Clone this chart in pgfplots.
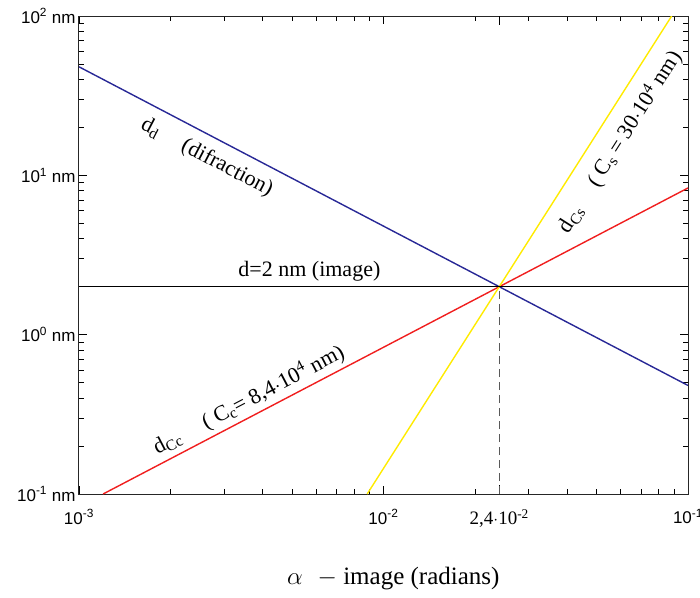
\documentclass[border=0pt]{standalone}
\usepackage{pgfplots}
\pgfplotsset{compat=1.18}
\usepackage{fontspec}
\setmainfont{Liberation Serif}
\newfontfamily\arial{Liberation Sans}
\definecolor{cblue}{RGB}{40,40,150}
\definecolor{cred}{RGB}{240,30,30}
\definecolor{cyellow}{RGB}{255,235,0}
\newcommand\twofour{2,4$\cdot$10\textsuperscript{-2}}
\begin{document}
\begin{tikzpicture}
\useasboundingbox (-79pt,-103pt) rectangle (621pt,494pt);
\begin{axis}[
  at={(0pt,0pt)}, anchor=south west,
  scale only axis, width=609pt, height=478pt,
  xmode=log, ymode=log,
  xmin=0.001, xmax=0.1, ymin=0.1, ymax=100,
  xtick={0.001,0.01,0.1},
  xticklabels={10\textsuperscript{-3},10\textsuperscript{-2},10\textsuperscript{-1}},
  ytick={0.1,1,10,100},
  yticklabels={10\textsuperscript{-1} nm,10\textsuperscript{0} nm,10\textsuperscript{1} nm,10\textsuperscript{2} nm},
  extra x ticks={0.024},
  extra x tick labels={\twofour},
  extra x tick style={tick label style={font=\rmfamily\fontsize{19}{19}\selectfont}, major tick length=9pt},
  tick label style={font=\arial\fontsize{17}{17}\selectfont},
  xticklabel style={yshift=-12pt},
  major tick length=8pt, minor tick length=5pt,
  tick style={black, line width=0.6pt},
  axis line style={line width=1pt, black!85},
  tick align=inside,
  clip mode=individual,
  xlabel={$\alpha$\hspace{0.6em}$-$ image (radians)},
  xlabel style={font=\fontsize{25}{25}\selectfont, at={(rel axis cs:0.516,-0.176)}, anchor=center},
]
\addplot[cblue, line width=1.4pt] coordinates {(0.001,48) (0.1,0.48)};
\addplot[cred, line width=1.4pt] coordinates {(0.0012,0.1) (0.1,8.333)};
\addplot[cyellow, line width=1.4pt] coordinates {(0.00884,0.1) (0.0884,100)};
\addplot[black, line width=1.4pt] coordinates {(0.001,2) (0.1,2)};
\addplot[black!65, dash pattern=on 8pt off 5pt, line width=0.8pt] coordinates {(0.024,0.1) (0.024,2)};

\node[font=\fontsize{22}{22}\selectfont, rotate=-27.6] at (axis cs:0.00263,12.9) {d\textsubscript{d}\hspace{1.2em}(difraction)};
\node[font=\fontsize{22}{22}\selectfont] at (axis cs:0.00571,2.51) {d=2 nm (image)};
\node[font=\fontsize{22}{22}\selectfont, rotate=27.6] at (axis cs:0.00361,0.389) {d\textsubscript{Cc}\hspace{1.2em}( C\textsubscript{c}= 8,4$\cdot$10\textsuperscript{4} nm)};
\node[font=\fontsize{22}{22}\selectfont, rotate=57.5] at (axis cs:0.0598,16.2) {d\textsubscript{Cs}\hspace{1.2em}( C\textsubscript{s} = 30$\cdot$10\textsuperscript{4} nm)};
\end{axis}
\end{tikzpicture}
\end{document}
